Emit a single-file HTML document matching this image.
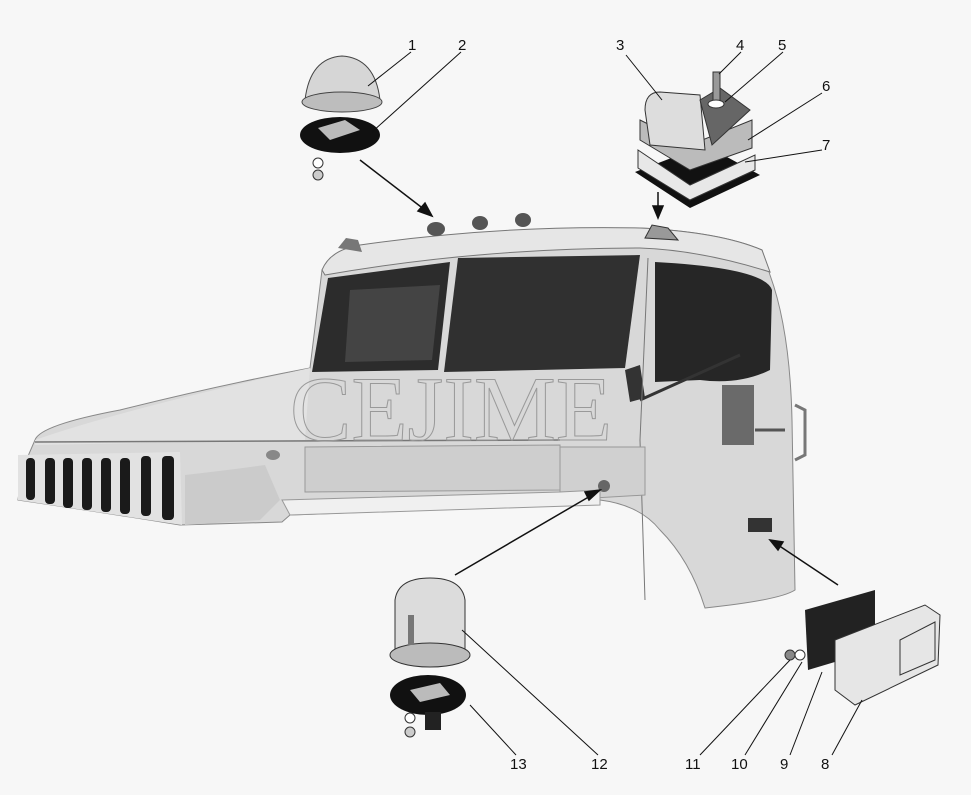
<!DOCTYPE html>
<html><head><meta charset="utf-8"><style>
html,body{margin:0;padding:0;background:#f7f7f7;}
svg{display:block}
text{font-family:"Liberation Sans",sans-serif;font-size:15px;fill:#111}
</style></head><body>
<svg width="971" height="795" viewBox="0 0 971 795">
<rect width="971" height="795" fill="#f7f7f7"/>
<path d="M18,500 L22,470 L35,440 Q40,425 120,410 Q220,385 310,368 L322,270 Q330,255 360,250 Q500,228 640,228 Q720,232 762,250 L770,275 Q790,330 792,420 L795,590 Q780,600 705,608 Q690,560 660,530 Q640,505 600,500 L560,505 L290,515 L282,522 L180,525 Q100,512 18,500 Z" fill="#d8d8d8" stroke="#888" stroke-width="1"/>
<path d="M322,270 Q330,250 360,245 Q500,225 640,228 Q720,232 762,250 L770,272 Q700,250 640,248 Q480,248 325,275 Z" fill="#e6e6e6" stroke="#777"/>
<path d="M35,440 Q120,410 310,368 L305,440 L35,445 Z" fill="#e2e2e2"/>
<line x1="35" y1="442" x2="560" y2="440" stroke="#777" stroke-width="1.5"/>
<path d="M328,278 L450,262 L438,370 L312,372 Z" fill="#2c2c2c"/>
<path d="M458,258 L640,255 L625,368 L444,372 Z" fill="#303030"/>
<path d="M655,262 Q765,268 772,290 L770,370 Q740,385 700,380 L655,382 Z" fill="#262626"/>
<path d="M350,290 L440,285 L432,360 L345,362 Z" fill="#555" opacity="0.6"/>
<path d="M625,370 L640,365 L645,398 L630,402 Z" fill="#333"/>
<line x1="640" y1="400" x2="740" y2="355" stroke="#333" stroke-width="3"/>
<rect x="722" y="385" width="32" height="60" fill="#6a6a6a"/>
<path d="M648,258 L640,440 L645,600" fill="none" stroke="#777"/>
<path d="M305,447 L560,445 L560,490 L305,492 Z" fill="#cecece" stroke="#999"/>
<path d="M560,447 L645,447 L645,495 L560,500 Z" fill="#d0d0d0" stroke="#999"/>
<path d="M282,500 L560,492 L600,490 L600,505 L290,515 Z" fill="#f0f0f0" stroke="#999"/>
<path d="M185,475 Q230,470 265,465 L280,500 L260,520 L185,525 Z" fill="#cbcbcb"/>
<path d="M755,430 L785,430" stroke="#555" stroke-width="3"/>
<path d="M795,405 L805,410 L805,455 L795,460" fill="none" stroke="#777" stroke-width="3"/>
<rect x="748" y="518" width="24" height="14" fill="#333"/>
<path d="M18,455 L180,452 L182,525 L18,500 Z" fill="#e2e2e2"/>
<g fill="#1a1a1a">
<rect x="26" y="458" width="9" height="42" rx="4"/>
<rect x="45" y="458" width="10" height="46" rx="4"/>
<rect x="63" y="458" width="10" height="50" rx="4"/>
<rect x="82" y="458" width="10" height="52" rx="4"/>
<rect x="101" y="458" width="10" height="54" rx="4"/>
<rect x="120" y="458" width="10" height="56" rx="4"/>
<rect x="141" y="456" width="10" height="60" rx="4"/>
<rect x="162" y="456" width="12" height="64" rx="4"/>
</g>
<ellipse cx="273" cy="455" rx="7" ry="5" fill="#888"/>
<g fill="#555"><ellipse cx="436" cy="229" rx="9" ry="7"/><ellipse cx="480" cy="223" rx="8" ry="7"/><ellipse cx="523" cy="220" rx="8" ry="7"/></g>
<path d="M338,248 L346,238 L358,240 L362,252 Z" fill="#777"/>
<path d="M645,238 L652,225 L668,228 L678,240 Z" fill="#999" stroke="#333"/>
<ellipse cx="604" cy="486" rx="6" ry="6" fill="#666"/>
<text x="290" y="440" style="font-family:'Liberation Serif',serif;font-size:92px;fill:none;stroke:#999;stroke-width:1">CEJIME</text>
<ellipse cx="340" cy="135" rx="40" ry="18" fill="#111"/>
<path d="M318,128 L345,120 L360,130 L330,140 Z" fill="#bbb"/>
<path d="M305,100 Q310,58 342,56 Q375,58 380,100 Z" fill="#d6d6d6" stroke="#444"/>
<ellipse cx="342" cy="102" rx="40" ry="10" fill="#bdbdbd" stroke="#444"/>
<circle cx="318" cy="163" r="5" fill="#fff" stroke="#333"/><circle cx="318" cy="175" r="5" fill="#ccc" stroke="#333"/>
<path d="M635,172 L690,208 L760,175 L705,145 Z" fill="#111"/>
<path d="M638,150 L690,185 L755,155 L755,170 L690,200 L638,168 Z" fill="#e8e8e8" stroke="#333"/>
<path d="M640,120 L690,145 L752,120 L752,148 L690,170 L640,140 Z" fill="#bbb" stroke="#333"/>
<path d="M645,110 Q645,92 660,92 L700,95 L705,150 L650,145 Z" fill="#ddd" stroke="#333"/>
<path d="M700,100 L720,88 L750,110 L712,145 Z" fill="#666" stroke="#333"/>
<rect x="713" y="72" width="7" height="30" fill="#999" stroke="#333"/>
<ellipse cx="716" cy="104" rx="8" ry="4" fill="#fff" stroke="#333"/>
<ellipse cx="428" cy="695" rx="38" ry="20" fill="#111"/>
<path d="M410,690 L440,683 L450,695 L420,702 Z" fill="#bbb"/>
<rect x="425" y="712" width="16" height="18" fill="#222"/>
<path d="M395,600 Q398,578 430,578 Q462,578 465,600 L465,650 L395,650 Z" fill="#dcdcdc" stroke="#333"/>
<ellipse cx="430" cy="655" rx="40" ry="12" fill="#bbb" stroke="#333"/>
<rect x="408" y="615" width="6" height="30" fill="#777"/>
<circle cx="410" cy="718" r="5" fill="#fff" stroke="#333"/><circle cx="410" cy="732" r="5" fill="#ccc" stroke="#333"/>
<path d="M805,610 L875,590 L875,650 L808,670 Z" fill="#222"/>
<path d="M835,640 L925,605 L940,615 L938,665 L855,705 L835,690 Z" fill="#e6e6e6" stroke="#333"/>
<path d="M900,640 L935,622 L935,660 L900,675 Z" fill="none" stroke="#333"/>
<circle cx="790" cy="655" r="5" fill="#888" stroke="#333"/><circle cx="800" cy="655" r="5" fill="#fff" stroke="#333"/>
<g stroke="#111" stroke-width="1.5" fill="#111">
<line x1="360" y1="160" x2="425" y2="210"/><path d="M432,216 L418,211 L425,203 Z"/>
<line x1="658" y1="192" x2="658" y2="210"/><path d="M658,218 L653,206 L663,206 Z"/>
<line x1="455" y1="575" x2="592" y2="495"/><path d="M600,490 L589,500 L585,492 Z"/>
<line x1="838" y1="585" x2="778" y2="545"/><path d="M770,540 L783,542 L778,550 Z"/>
</g>
<g stroke="#111" stroke-width="1">
<line x1="411" y1="52" x2="368" y2="86"/>
<line x1="461" y1="52" x2="372" y2="132"/>
<line x1="626" y1="55" x2="662" y2="100"/>
<line x1="741" y1="52" x2="719" y2="74"/>
<line x1="783" y1="52" x2="725" y2="102"/>
<line x1="822" y1="93" x2="748" y2="140"/>
<line x1="822" y1="150" x2="745" y2="162"/>
<line x1="516" y1="755" x2="470" y2="705"/>
<line x1="598" y1="755" x2="462" y2="630"/>
<line x1="700" y1="755" x2="790" y2="660"/>
<line x1="745" y1="755" x2="802" y2="662"/>
<line x1="790" y1="755" x2="822" y2="672"/>
<line x1="832" y1="755" x2="862" y2="700"/>
</g>
<text x="408" y="50">1</text><text x="458" y="50">2</text>
<text x="616" y="50">3</text><text x="736" y="50">4</text><text x="778" y="50">5</text>
<text x="822" y="91">6</text><text x="822" y="150">7</text>
<text x="510" y="769">13</text><text x="591" y="769">12</text><text x="685" y="769">11</text>
<text x="731" y="769">10</text><text x="780" y="769">9</text><text x="821" y="769">8</text>
</svg>
</body></html>
